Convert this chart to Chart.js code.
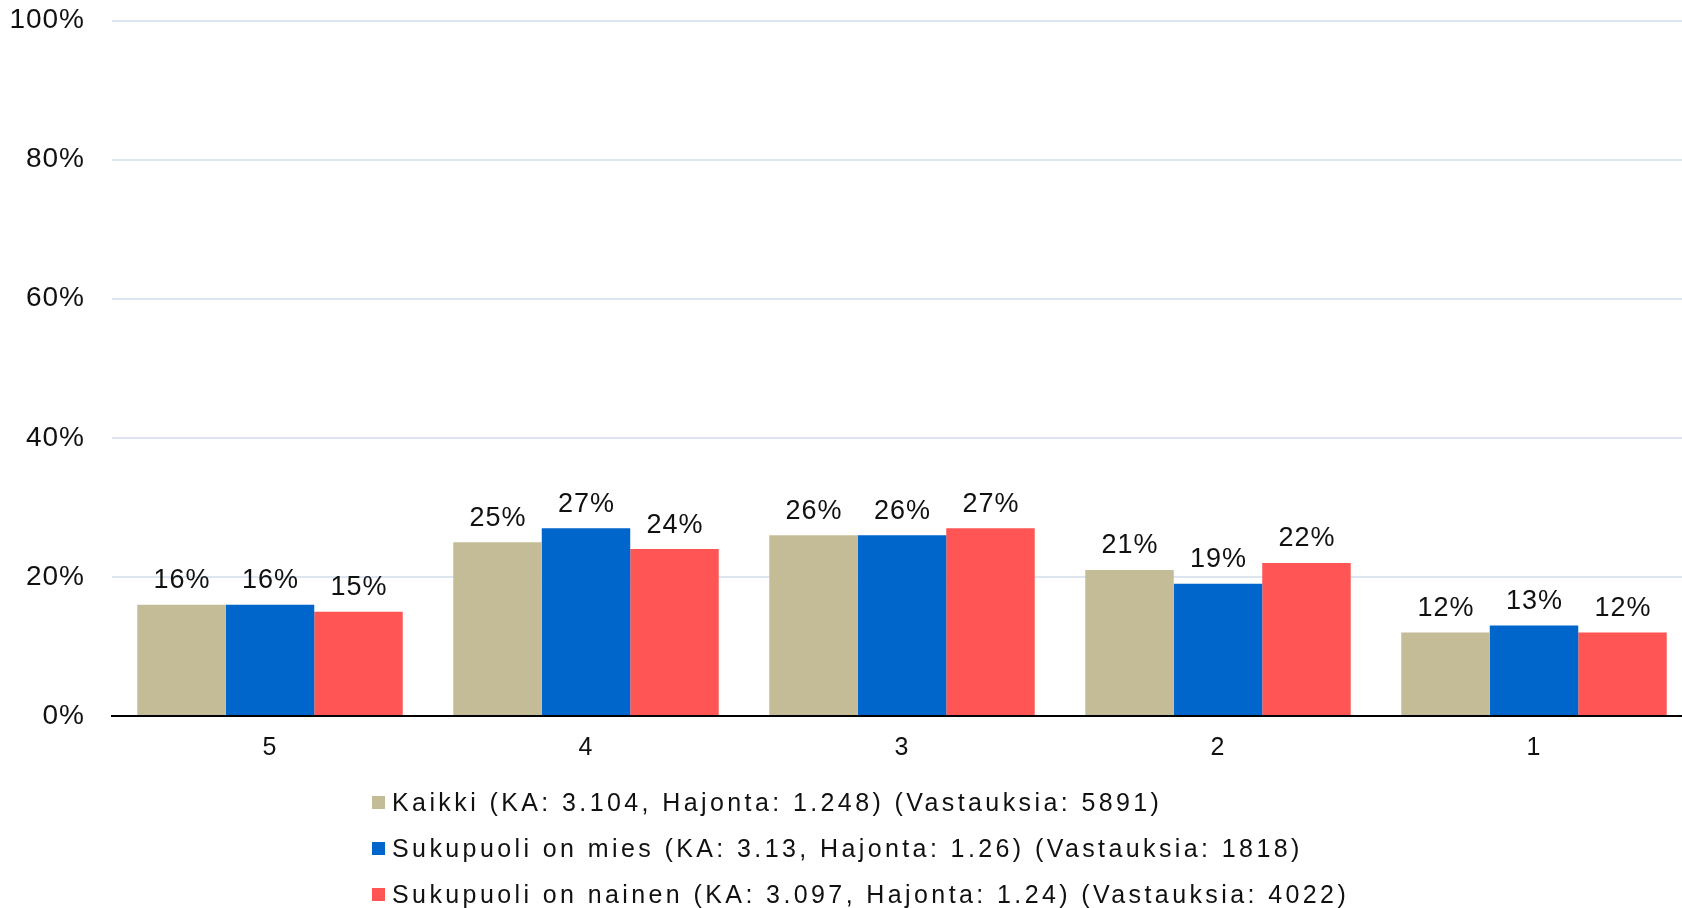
<!DOCTYPE html>
<html>
<head>
<meta charset="utf-8">
<script src="https://cdn.jsdelivr.net/npm/chart.js@4.4.1/dist/chart.umd.min.js"></script>
<style>
    html, body { margin: 0; padding: 0; background: #fff; overflow: hidden; }
    body { width: 1682px; height: 908px; position: relative; }
    #chart { position: absolute; left: 0; top: 0; }
    #legend {
        position: absolute; left: 372px; top: 779px;
        font-family: "Liberation Sans", Arial, sans-serif;
        font-size: 25px; letter-spacing: 3.4px; color: #111;
    }
    #legend div { height: 46px; line-height: 46px; white-space: nowrap; }
    #legend span.box { display: inline-block; width: 13px; height: 13px; margin-right: 7px; vertical-align: middle; position: relative; top: -2px; }
</style>
</head>
<body>
<canvas id="chart" width="1694" height="780"></canvas>
<div id="legend"></div>
<script>
// Chart data
const categories = ['5', '4', '3', '2', '1'];
const seriesNames = [
    'Kaikki (KA: 3.104, Hajonta: 1.248) (Vastauksia: 5891)',
    'Sukupuoli on mies (KA: 3.13, Hajonta: 1.26) (Vastauksia: 1818)',
    'Sukupuoli on nainen (KA: 3.097, Hajonta: 1.24) (Vastauksia: 4022)'
];
const kaikki = [16, 25, 26, 21, 12];
const mies = [16, 27, 26, 19, 13];
const nainen = [15, 24, 27, 22, 12];
const yTicks = [0, 20, 40, 60, 80, 100];
const colors = ['#c4bc96', '#0066cc', '#ff5555'];

const FONT = '"Liberation Sans", Arial, sans-serif';

// slightly spaced axis text (set after layout so measuring is unchanged)
const spacing = {
    id: 'spacing',
    beforeDraw(chart) { chart.ctx.letterSpacing = '1px'; }
};

// value labels above bars
const valueLabels = {
    id: 'valueLabels',
    afterDatasetsDraw(chart) {
        const ctx = chart.ctx;
        ctx.save();
        ctx.font = '27px ' + FONT;
        ctx.letterSpacing = '1px';
        ctx.fillStyle = '#111';
        ctx.textAlign = 'center';
        ctx.textBaseline = 'alphabetic';
        chart.data.datasets.forEach((ds, i) => {
            chart.getDatasetMeta(i).data.forEach((bar, j) => {
                ctx.fillText(ds.data[j] + '%', bar.x + 0.5, bar.y - 16.5);
            });
        });
        ctx.restore();
    }
};

const chart = new Chart(document.getElementById('chart'), {
    type: 'bar',
    data: {
        labels: categories,
        datasets: [kaikki, mies, nainen].map((d, i) => ({
            label: seriesNames[i],
            data: d,
            backgroundColor: colors[i],
            categoryPercentage: 0.84,
            barPercentage: 1.0
        }))
    },
    options: {
        responsive: false,
        animation: false,
        layout: { padding: { top: 20.5, right: 2, bottom: 0, left: 0 } },
        plugins: {
            legend: { display: false },
            tooltip: { enabled: false }
        },
        scales: {
            x: {
                grid: { display: true, drawOnChartArea: false, drawTicks: false },
                border: { display: true, color: '#000', width: 2 },
                ticks: { color: '#111', font: { family: FONT, size: 25 }, padding: 17 }
            },
            y: {
                min: 0,
                max: 100,
                afterBuildTicks(scale) { scale.ticks = yTicks.map(v => ({ value: v })); },
                afterFit(scale) { scale.width = 112; },
                // invisible tick marks keep the labels away from the plot
                grid: { color: '#dce5f0', lineWidth: 2, drawTicks: true, tickLength: 25, tickColor: 'rgba(0,0,0,0)' },
                border: { display: false },
                ticks: {
                    color: '#111',
                    font: { family: FONT, size: 28 },
                    padding: 2,
                    callback: v => v + '%'
                }
            }
        }
    },
    plugins: [spacing, valueLabels]
});

// html legend, one series per row
const legend = document.getElementById('legend');
seriesNames.forEach((name, i) => {
    const row = document.createElement('div');
    row.innerHTML = '<span class="box" style="background:' + colors[i] + '"></span>' + name;
    legend.appendChild(row);
});
</script>
</body>
</html>
